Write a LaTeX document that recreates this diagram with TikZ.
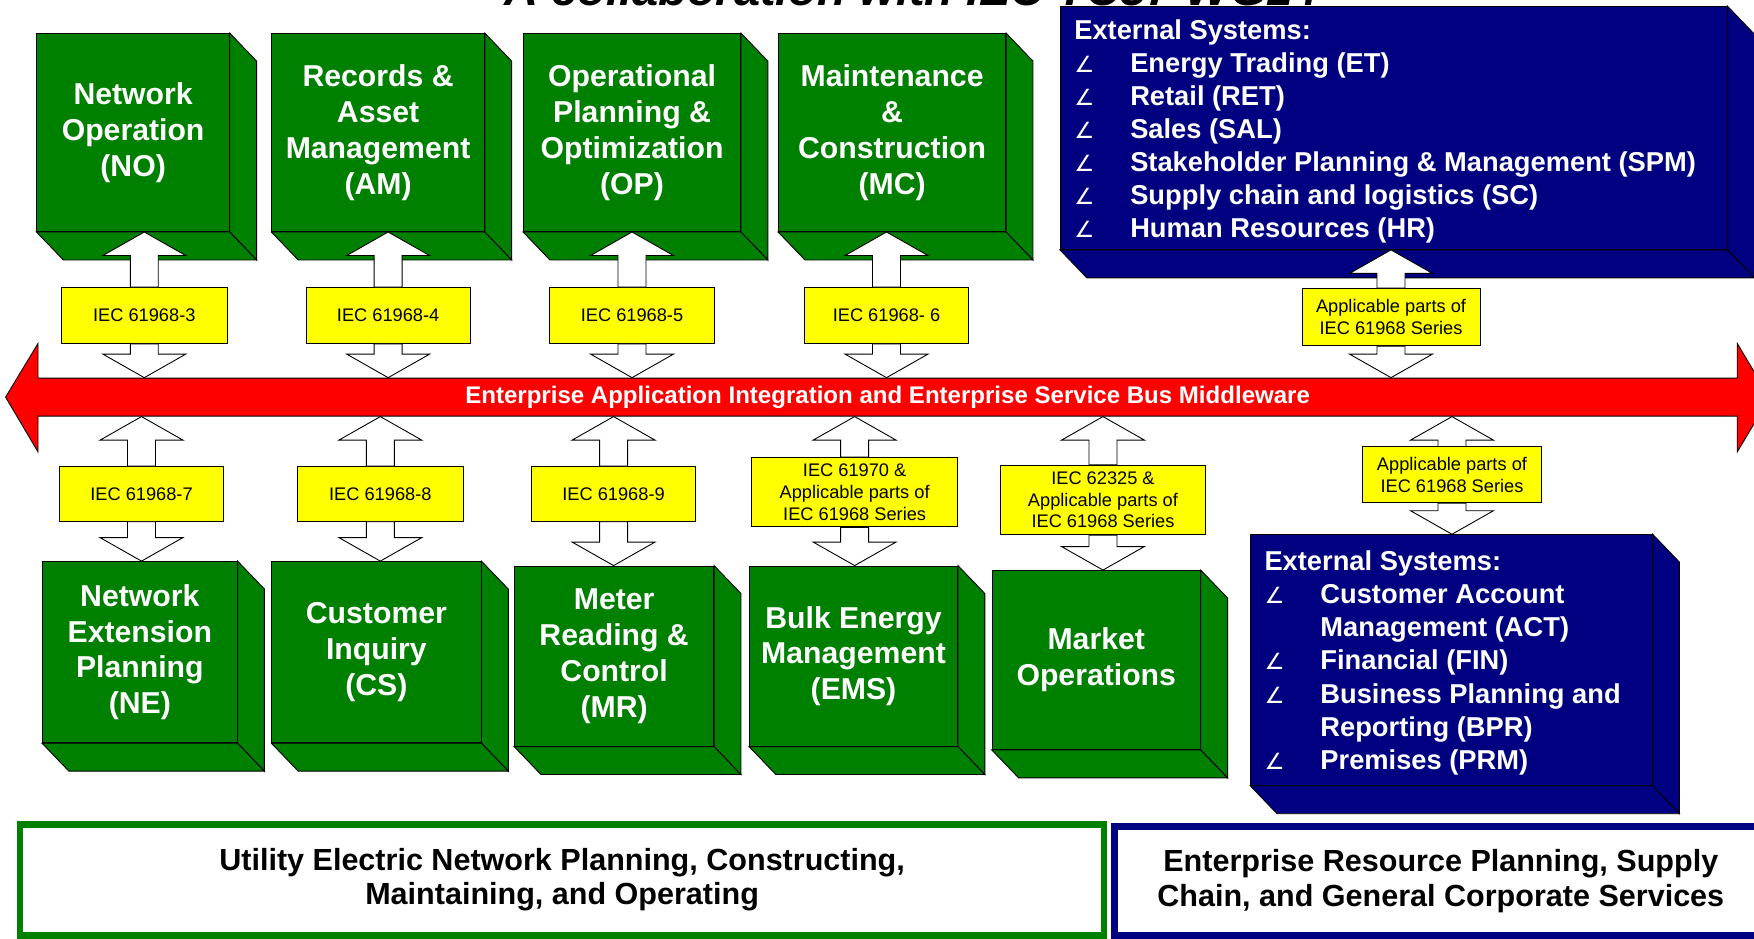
\documentclass[tikz,border=0pt]{standalone}
\usepackage{fontspec}
\setmainfont{Liberation Sans}
\newfontfamily\anglefont{DejaVu Sans}
\usetikzlibrary{calc}

\definecolor{iecgreen}{RGB}{0,128,0}
\definecolor{iecnavy}{RGB}{0,0,128}
\definecolor{iecyellow}{RGB}{255,255,0}
\definecolor{iecred}{RGB}{255,0,0}

% side and bottom faces of a box
\newcommand\extrude[2]{%
  \draw[fill=#2] (#1.north east) -- ++(24,25) -- ($(#1.south east)+(24,25)$) -- (#1.south east) -- cycle;
  \draw[fill=#2] (#1.south west) -- (#1.south east) -- ++(24,25) -- ($(#1.south west)+(24,25)$) -- cycle;}

% hollow block arrow from the edge of a label to its tip
\newcommand\blockarrow[2]{%
  \draw[fill=white] let \p1=#1, \p2=#2, \n1={\y2+ifthenelse(\y2>\y1,-21,21)} in
    (\x1-12.5pt,\y1) -- (\x1-12.5pt,\n1) -- (\x1-37pt,\n1) -- (\p2)
    -- (\x1+37pt,\n1) -- (\x1+12.5pt,\n1) -- (\x1+12.5pt,\y1) -- cycle;}

% bullet of the external systems lists
\newcommand\bul{\makebox[50pt][l]{\fontsize{20}{24}\anglefont\mdseries ∠}}

\begin{document}
\begin{tikzpicture}[x=1pt, y=-1pt, line width=0.8pt,
  greenbox/.style={draw, fill=iecgreen, text=white, inner sep=0pt, align=center,
    font=\fontsize{27}{32}\selectfont\bfseries},
  navybox/.style={draw, fill=iecnavy, inner sep=0pt},
  navytext/.style={anchor=north west, text=white, inner sep=0pt, align=left,
    font=\fontsize{24.4}{29.6}\selectfont\bfseries},
  yellowlbl/.style={draw, fill=iecyellow, inner sep=0pt, align=center,
    font=\fontsize{16.3}{19.3}\selectfont}]

\useasboundingbox (0,0) rectangle (1568,839);
\clip (0,0) rectangle (1568,839);

% title, cut by the top edge
\node[anchor=base, font=\fontsize{42}{48}\selectfont\bfseries\itshape] (title) at (815,5) {A collaboration with IEC TC57 WG14};

% upper row of business functions
\node[greenbox, minimum width=172, minimum height=177] (no) at (119,118.5) {Network\\Operation\\(NO)};
\node[greenbox, minimum width=190, minimum height=177] (am) at (338,118.5) {Records \&\\Asset\\Management\\(AM)};
\node[greenbox, minimum width=194, minimum height=177] (op) at (565,118.5) {Operational\\Planning \&\\Optimization\\(OP)};
\node[greenbox, minimum width=203, minimum height=177] (mc) at (797.5,118.5) {Maintenance\\\&\\Construction\\(MC)};
\foreach \b in {no,am,op,mc} {\extrude{\b}{iecgreen}}
\node[navybox, minimum width=596, minimum height=217] (extup) at (1246,114.5) {};
\extrude{extup}{iecnavy}
\node[navytext] (extuplist) at (960,17) {External Systems:\\
  \bul Energy Trading (ET)\\
  \bul Retail (RET)\\
  \bul Sales (SAL)\\
  \bul Stakeholder Planning \& Management (SPM)\\
  \bul Supply chain and logistics (SC)\\
  \bul Human Resources (HR)};

% lower row of business functions
\node[greenbox, minimum width=174, minimum height=162] (ne) at (125,583) {Network\\Extension\\Planning\\(NE)};
\node[greenbox, minimum width=187, minimum height=162] (cs) at (336.5,583) {Customer\\Inquiry\\(CS)};
\node[greenbox, minimum width=178, minimum height=161] (mr) at (549,586.5) {Meter\\Reading \&\\Control\\(MR)};
\node[greenbox, minimum width=186, minimum height=161] (ems) at (763,586.5) {Bulk Energy\\Management\\(EMS)};
\node[greenbox, minimum width=186, minimum height=160] (mkt) at (980,590) {Market\\Operations};
\foreach \b in {ne,cs,mr,ems,mkt} {\extrude{\b}{iecgreen}}
\node[navybox, minimum width=359, minimum height=224] (extdown) at (1297.5,590) {};
\extrude{extdown}{iecnavy}
\node[navytext] (extdownlist) at (1130,492) {External Systems:\\
  \bul Customer Account\\
  \hspace*{50pt}Management (ACT)\\
  \bul Financial (FIN)\\
  \bul Business Planning and\\
  \hspace*{50pt}Reporting (BPR)\\
  \bul Premises (PRM)};

% middleware bus
\draw[fill=iecred] (5,355) -- (34,307) -- (34,338) -- (1553,338) -- (1553,307) -- (1582,355.5)
  -- (1553,404) -- (1553,372) -- (34,372) -- (34,404) -- cycle;
\node[text=white, inner sep=0pt, minimum width=1519, minimum height=34,
  font=\fontsize{21.5}{25}\selectfont\bfseries] (bus) at (793.5,355)
  {Enterprise Application Integration and Enterprise Service Bus Middleware};

% interface standards
\node[yellowlbl, minimum width=148, minimum height=50] (lb3) at (129,282) {IEC 61968-3};
\node[yellowlbl, minimum width=147, minimum height=50] (lb4) at (347,282) {IEC 61968-4};
\node[yellowlbl, minimum width=148, minimum height=50] (lb5) at (565,282) {IEC 61968-5};
\node[yellowlbl, minimum width=147, minimum height=50] (lb6) at (792.5,282) {IEC 61968- 6};
\node[yellowlbl, minimum width=159, minimum height=51] (lbup) at (1243.5,283.5) {Applicable parts of\\IEC 61968 Series};
\node[yellowlbl, minimum width=147, minimum height=49] (lb7) at (126.5,441.5) {IEC 61968-7};
\node[yellowlbl, minimum width=148, minimum height=49] (lb8) at (340,441.5) {IEC 61968-8};
\node[yellowlbl, minimum width=147, minimum height=49] (lb9) at (548.5,441.5) {IEC 61968-9};
\node[yellowlbl, minimum width=184, minimum height=62] (lbems) at (764,440) {IEC 61970 \&\\Applicable parts of\\IEC 61968 Series};
\node[yellowlbl, minimum width=184, minimum height=62] (lbmkt) at (986,447) {IEC 62325 \&\\Applicable parts of\\IEC 61968 Series};
\node[yellowlbl, minimum width=160, minimum height=50] (lbdown) at (1298,424.5) {Applicable parts of\\IEC 61968 Series};

% block arrows through the labels
\foreach \l/\b in {lb3/no, lb4/am, lb5/op, lb6/mc, lbup/extup} {
  \blockarrow{(\l.north)}{(\l |- \b.south)}
  \blockarrow{(\l.south)}{(\l |- bus.north)}
}
\foreach \l/\b in {lb7/ne, lb8/cs, lb9/mr, lbems/ems, lbmkt/mkt, lbdown/extdown} {
  \blockarrow{(\l.north)}{(\l |- bus.south)}
  \blockarrow{(\l.south)}{(\l |- \b.north)}
}

% domain banners
\node[draw=iecgreen, line width=6, fill=white, minimum width=969, minimum height=99, inner sep=0pt,
  align=center, font=\fontsize{27.3}{31}\selectfont\bfseries] (util) at (502.5,786.5)
  {Utility Electric Network Planning, Constructing,\\Maintaining, and Operating};
\node[draw=iecnavy, line width=6, fill=white, minimum width=584, minimum height=97, inner sep=0pt,
  align=center, font=\fontsize{27.3}{31}\selectfont\bfseries] (erp) at (1288,787.5)
  {Enterprise Resource Planning, Supply\\Chain, and General Corporate Services};

\end{tikzpicture}
\end{document}
